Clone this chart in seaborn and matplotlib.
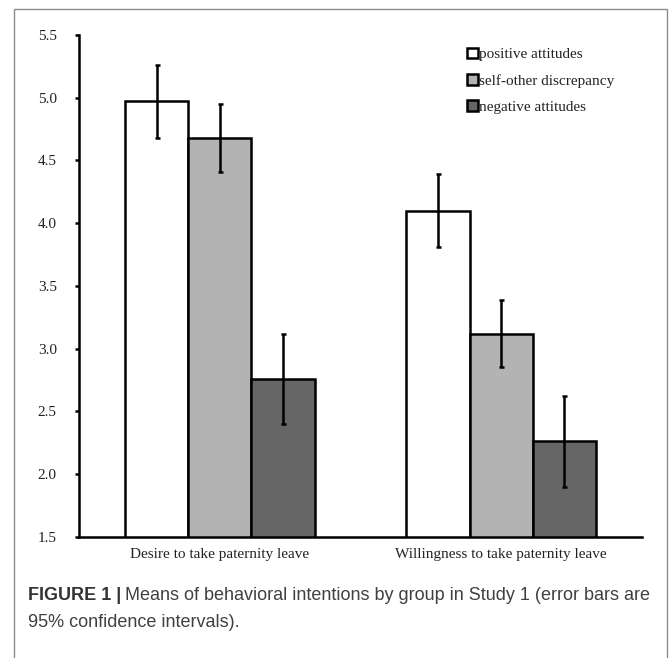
import numpy as np
import pandas as pd
import matplotlib
matplotlib.use("Agg")
import matplotlib.pyplot as plt
from matplotlib.patches import Rectangle
import seaborn as sns

# ---- data ----
behaviors = ["Desire to take paternity leave", "Willingness to take paternity leave"]
groups = ["positive attitudes", "self-other discrepancy", "negative attitudes"]
mean_positive = [4.97, 4.10]
mean_discrepancy = [4.68, 3.12]
mean_negative = [2.76, 2.26]
ci_positive = [0.29, 0.29]
ci_discrepancy = [0.27, 0.27]
ci_negative = [0.36, 0.36]
y_ticks = [1.5, 2.0, 2.5, 3.0, 3.5, 4.0, 4.5, 5.0, 5.5]

COLORS = ["#ffffff", "#b3b3b3", "#666666"]

means = [mean_positive, mean_discrepancy, mean_negative]
cis = [ci_positive, ci_discrepancy, ci_negative]
rows = []
for g, m in zip(groups, means):
    for b, v in zip(behaviors, m):
        rows.append({"behavior": b, "group": g, "mean": v})
df = pd.DataFrame(rows)

sns.set_theme(style="white")
plt.rcParams["font.family"] = ["Liberation Serif", "DejaVu Serif"]

W, H = 669, 658
fig = plt.figure(figsize=(W / 100, H / 100), dpi=100)
fig.patch.set_facecolor("white")
ax = fig.add_axes([79 / W, 1 - 536.7 / H, (642 - 79) / W, (536.7 - 35) / H])

sns.barplot(data=df, x="behavior", y="mean", hue="group", hue_order=groups,
            palette=COLORS, width=0.674, edgecolor="black", linewidth=1.8,
            errorbar=None, legend=False, ax=ax)

# 95% CI error bars on top of each bar
for container, ci in zip(ax.containers, cis):
    xs = [b.get_x() + b.get_width() / 2 for b in container]
    ys = [b.get_height() for b in container]
    ax.errorbar(xs, ys, yerr=ci, fmt="none", ecolor="black",
                elinewidth=1.8, capsize=1.8, capthick=1.8, zorder=5)

ax.set_ylim(1.5, 5.5)
ax.set_xlim(-0.5, 1.5)
ax.set_yticks(y_ticks)
ax.set_yticklabels([f"{t:.1f}" for t in y_ticks])
ax.set_xlabel("")
ax.set_ylabel("")
ax.tick_params(axis="y", length=3, width=1.8, color="black", labelsize=11,
               pad=13, labelcolor="#222222", left=True)
ax.tick_params(axis="x", length=0, labelsize=11, pad=8, labelcolor="#222222")
for side in ["top", "right"]:
    ax.spines[side].set_visible(False)
for side in ["left", "bottom"]:
    ax.spines[side].set_linewidth(1.8)
    ax.spines[side].set_color("black")

handles = [c[0] for c in ax.containers]
leg = ax.legend(handles, groups, loc="upper left", bbox_to_anchor=(0.689, 0.975),
                frameon=False, fontsize=11, handlelength=0.7, handleheight=0.7,
                handletextpad=0.12, labelspacing=0.83, borderpad=0, borderaxespad=0)
for t in leg.get_texts():
    t.set_color("#222222")

# outer frame of the figure panel (bottom edge runs off the image)
fig.add_artist(Rectangle((14 / W, -0.05), (667 - 14) / W, 1.05 - 9 / H,
                         transform=fig.transFigure, fill=False,
                         edgecolor="#8c8c8c", linewidth=1.0))

# caption with bold label
cap_font = ["Liberation Sans", "DejaVu Sans"]
x0, y1, y2 = 28 / W, 1 - 600 / H, 1 - 627 / H
bold = fig.text(x0, y1, "FIGURE 1 |", family=cap_font, fontsize=13,
                fontweight="bold", color="#333333", va="baseline")
fig.canvas.draw()
ext = bold.get_window_extent(fig.canvas.get_renderer())
fig.text(ext.x1 / W + 4 / W, y1,
         "Means of behavioral intentions by group in Study 1 (error bars are",
         family=cap_font, fontsize=13, color="#404040", va="baseline")
fig.text(x0, y2, "95% confidence intervals).", family=cap_font, fontsize=13,
         color="#404040", va="baseline")

fig.savefig("out.png", dpi=100, facecolor="white")
